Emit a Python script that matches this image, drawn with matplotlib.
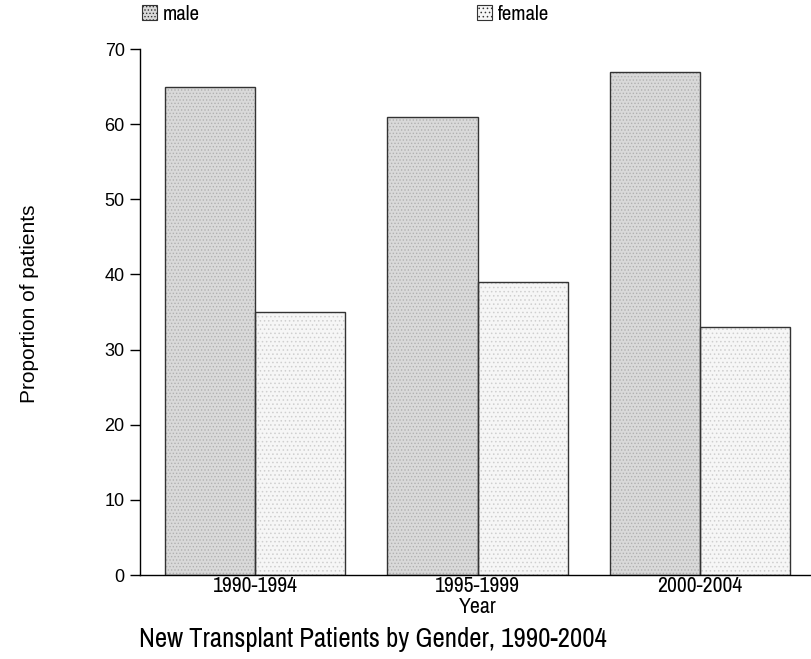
import numpy as np
import matplotlib.pyplot as plt
from matplotlib import font_manager
from matplotlib.patches import Patch

have = {f.name for f in font_manager.fontManager.ttflist}
narrow_pref = ['Liberation Sans Narrow', 'Arial Narrow', 'Archivo Narrow',
               'Roboto Condensed', 'Barlow Condensed']
narrow = [n for n in narrow_pref if n in have][:1] + ['Liberation Sans', 'DejaVu Sans']
plt.rcParams['font.family'] = ['Liberation Sans', 'DejaVu Sans']
plt.rcParams['hatch.linewidth'] = 0.6

# data
years = ["1990-1994", "1995-1999", "2000-2004"]
male = [65, 61, 67]
female = [35, 39, 33]
yticks = [0, 10, 20, 30, 40, 50, 60, 70]

W, H = 812, 659
fig = plt.figure(figsize=(W/100, H/100), dpi=100)
ax = fig.add_axes([140/W, 1 - 575/H, 1 - 140/W, (575 - 49)/H])


def fit(t, width_px):
    # scale a text's font size so it is width_px wide
    r = fig.canvas.get_renderer()
    w = t.get_window_extent(r).width
    t.set_fontsize(t.get_fontsize() * width_px / w)
    return t.get_fontsize()


x = np.arange(len(years))
w = 0.405

# textured fill first, then the outlines
ax.bar(x - w/2, male, w, align='center', color='#d9d9d9', hatch='.....',
       edgecolor='#b0b0b0', linewidth=0)
ax.bar(x + w/2, female, w, align='center', color='#f6f6f6', hatch='....',
       edgecolor='#cfcfcf', linewidth=0)
ax.bar(x - w/2, male, w, fill=False, edgecolor='#333333', linewidth=1)
ax.bar(x + w/2, female, w, fill=False, edgecolor='#333333', linewidth=1)

ax.set_xlim(-0.517, 2.503)
ax.set_ylim(0, 70)
ax.set_yticks(yticks)
ax.set_xticks(x)
ax.set_xticklabels(years, fontsize=14, family=narrow)
ax.tick_params(axis='x', length=0, pad=1)
ax.tick_params(axis='y', length=7, width=1, direction='out', labelsize=13, pad=4)
for s in ['top', 'right']:
    ax.spines[s].set_visible(False)
for s in ['left', 'bottom']:
    ax.spines[s].set_linewidth(1)

fig.canvas.draw()
size = fit(ax.get_xticklabels()[0], 85)
for lab in ax.get_xticklabels():
    lab.set_fontsize(size)

fig.text(30/W, 1 - 304/H, "Proportion of patients", rotation=90,
         ha='center', va='center', fontsize=15)
yr = fig.text(478/W, 1 - 613/H, "Year", ha='center', va='baseline',
              fontsize=14, family=narrow)
fit(yr, 38)
title = fig.text(373/W, 1 - 647/H, "New Transplant Patients by Gender, 1990-2004",
                 ha='center', va='baseline', fontsize=22, family=narrow)
fit(title, 468)

# two single-entry legends so each box sits where the reference has it
labels = ["male", "female"]
fills = ['#d9d9d9', '#f6f6f6']
hatches = ['.....', '....']
box_x = [142, 477]
for lab, fc, ht, bx in zip(labels, fills, hatches, box_x):
    h = Patch(facecolor=fc, edgecolor='#333333', hatch=ht, linewidth=0.8)
    fig.legend([h], [lab], loc='upper left', bbox_to_anchor=(bx/W, 1 - 5/H),
               frameon=False, prop={'family': narrow, 'size': 15},
               borderpad=0, borderaxespad=0,
               handlelength=0.7, handleheight=0.7, handletextpad=0.3)

fig.savefig("out.png", dpi=100)
